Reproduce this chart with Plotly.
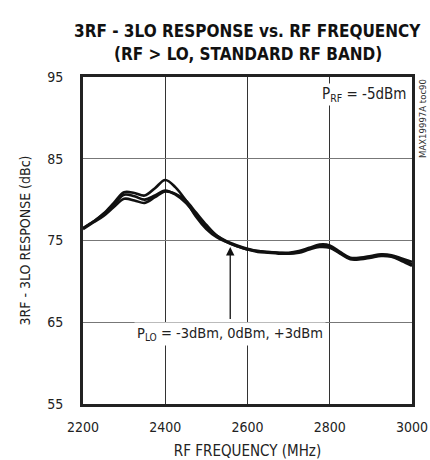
import plotly.graph_objects as go

freq = list(range(2200, 3001, 25))
resp_m3 = [76.5, 77.3, 78.3, 79.6, 80.9, 80.8, 80.5, 81.4, 82.4, 81.5, 79.9, 77.9, 76.4, 75.4, 74.8, 74.3, 73.9,
           73.7, 73.6, 73.5, 73.5, 73.7, 74.1, 74.5, 74.4, 73.6, 72.9, 72.9, 73.1, 73.3, 73.2, 72.8, 72.4]
resp_0 = [76.5, 77.3, 78.2, 79.4, 80.6, 80.4, 80.0, 80.5, 81.1, 80.6, 79.6, 78.1, 76.7, 75.6, 74.9, 74.4, 74.0,
          73.7, 73.6, 73.5, 73.4, 73.6, 74.0, 74.3, 74.2, 73.5, 72.8, 72.8, 73.0, 73.2, 73.1, 72.6, 72.1]
resp_p3 = [76.4, 77.2, 78.0, 79.1, 80.1, 79.9, 79.6, 80.3, 81.0, 80.7, 79.9, 78.4, 76.9, 75.6, 74.8, 74.3, 73.9,
           73.6, 73.5, 73.4, 73.4, 73.5, 73.9, 74.2, 74.1, 73.4, 72.7, 72.7, 72.9, 73.1, 73.0, 72.5, 71.9]
series_names = ["PLO = -3dBm", "PLO = 0dBm", "PLO = +3dBm"]
x_ticks = [2200, 2400, 2600, 2800, 3000]
y_ticks = [55, 65, 75, 85, 95]

FONT = "DejaVu Sans Condensed"

fig = go.Figure()
for name, ys in zip(series_names, [resp_m3, resp_0, resp_p3]):
    fig.add_trace(go.Scatter(x=freq, y=ys, mode="lines", name=name,
                             line=dict(color="#111", width=2.6, shape="spline", smoothing=1.0)))

fig.update_layout(
    width=430, height=460,
    margin=dict(l=83, r=18, t=77, b=56),
    paper_bgcolor="white", plot_bgcolor="white",
    showlegend=False,
    font=dict(family=FONT, size=14, color="#222"),
)
fig.update_xaxes(range=[2200, 3000], tickvals=x_ticks, ticks="", showgrid=True, gridcolor="#333", gridwidth=1,
                 showline=True, linecolor="#222", linewidth=2.6, mirror=True, zeroline=False,
                 ticklabeloverflow="allow", ticklabelstandoff=8, automargin=False,
                 title=dict(text="RF FREQUENCY (MHz)", standoff=13, font=dict(size=15)),
                 tickfont=dict(size=14))
fig.update_yaxes(range=[55, 95], tickvals=y_ticks, ticks="", showgrid=True, gridcolor="#777", gridwidth=1,
                 showline=True, linecolor="#222", linewidth=2.6, mirror=True, zeroline=False,
                 ticklabelstandoff=14, automargin=False,
                 title=dict(text="3RF - 3LO RESPONSE (dBc)", standoff=14, font=dict(size=14)),
                 tickfont=dict(size=14))

fig.add_annotation(x=0.5, y=1, xref="paper", yref="paper", yshift=46, yanchor="middle", xanchor="center",
                   text="<b>3RF - 3LO RESPONSE vs. RF FREQUENCY</b>", showarrow=False,
                   font=dict(size=17, color="#111"))
fig.add_annotation(x=0.5, y=1, xref="paper", yref="paper", yshift=23, yanchor="middle", xanchor="center",
                   text="<b>(RF > LO, STANDARD RF BAND)</b>", showarrow=False,
                   font=dict(size=17, color="#111"))
fig.add_annotation(x=2990, y=94.3, xref="x", yref="y", xanchor="right", yanchor="top",
                   text="P<sub>RF</sub> = -5dBm", showarrow=False, bgcolor="white",
                   font=dict(size=15, color="#222"), borderpad=1)
fig.add_annotation(x=2558, y=63.6, xref="x", yref="y", xanchor="center", yanchor="middle",
                   text="P<sub>LO</sub> = -3dBm, 0dBm, +3dBm", showarrow=False, bgcolor="white",
                   font=dict(size=14.5, color="#222"), borderpad=2)
fig.add_annotation(x=2558, y=74.2, xref="x", yref="y", ax=2558, ay=65.2, axref="x", ayref="y",
                   text="", showarrow=True, arrowhead=2, arrowsize=1.3, arrowwidth=1.3, arrowcolor="#111")
fig.add_annotation(x=1.0, y=1.0, xref="paper", yref="paper", xanchor="left", yanchor="top", xshift=3,
                   text="MAX19997A toc90", textangle=-90, showarrow=False,
                   font=dict(size=9.5, color="#333"))

fig.write_html("out.html", config={"displayModeBar": False},
               post_script="document.body.style.margin='0';")
